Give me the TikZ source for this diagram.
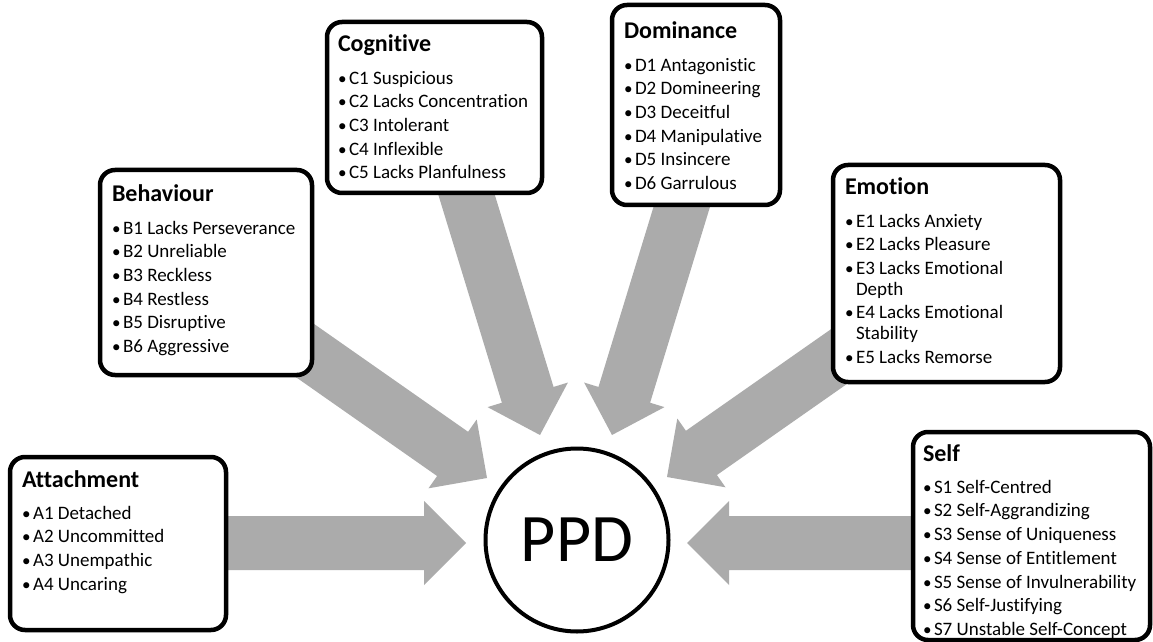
\documentclass[tikz,border=0pt]{standalone}
\usepackage{fontspec}
\usepackage{graphicx}
\setmainfont[Ligatures={NoCommon}]{Carlito}
\definecolor{arrowgray}{RGB}{171,171,171}
\tikzset{
  box/.style={draw, line width=4.5pt, rounded corners=15pt, fill=white, inner sep=0pt, outer sep=0pt},
  txt/.style={anchor=base west, inner sep=0pt, outer sep=0pt},
  blockarrow/.pic={\fill[arrowgray] (0pt,0pt) -- (-42pt,42pt) -- (-42pt,27pt) -- (-290pt,27pt) -- (-290pt,-27pt) -- (-42pt,-27pt) -- (-42pt,-42pt) -- cycle;}
}
\newcommand{\hd}[1]{{\fontsize{24}{24}\selectfont\bfseries #1\par}\vspace{8.5pt}}
\newcommand{\itm}[1]{\par\hangindent=11pt\hangafter=1\noindent\makebox[11pt][l]{\scalebox{0.9}{\textbullet}}#1}
\newcommand{\blist}[2]{\parbox[t]{240pt}{\raggedright\hd{#1}\setlength{\parskip}{3.2pt}\fontsize{19}{20.5}\selectfont #2\par}}
\begin{document}
\begin{tikzpicture}[x=1pt,y=1pt]
\fill[white] (0,0) rectangle (1153,641);
\useasboundingbox (0,0) rectangle (1153,641);
% centre
\node[circle, draw, line width=4pt, minimum size=183pt, inner sep=0pt, fill=white, font=\fontsize{68}{68}\selectfont] (ppd) at (577,101) {PPD};
% arrow tips
\path (ppd.center) ++(-111,-3) coordinate (tipA);
\path (ppd.center) ++(-90,62) coordinate (tipB);
\path (ppd.center) ++(-37,105) coordinate (tipC);
\path (ppd.center) ++(35,105) coordinate (tipD);
\path (ppd.center) ++(90,63) coordinate (tipE);
\path (ppd.center) ++(110,-3) coordinate (tipS);
\pic[rotate=0] at (tipA) {blockarrow};
\pic[rotate=325] at (tipB) {blockarrow};
\pic[rotate=287] at (tipC) {blockarrow};
\pic[rotate=253] at (tipD) {blockarrow};
\pic[rotate=215] at (tipE) {blockarrow};
\pic[rotate=180] at (tipS) {blockarrow};
% boxes
\node[box, minimum width=216pt, minimum height=173pt] (boxA) at (118,97.5) {};
\node[box, minimum width=212pt, minimum height=205pt] (boxB) at (206,368.5) {};
\node[box, minimum width=215pt, minimum height=171pt] (boxC) at (434.5,533.5) {};
\node[box, minimum width=168pt, minimum height=200pt] (boxD) at (696,536) {};
\node[box, minimum width=227pt, minimum height=217pt] (boxE) at (946.5,367.5) {};
\node[box, minimum width=237pt, minimum height=208pt] (boxS) at (1031.5,105) {};
% texts
\node[txt] (txtA) at ([xshift=12pt,yshift=-30pt]boxA.north west) {\blist{Attachment}{\itm{A1 Detached}\itm{A2 Uncommitted}\itm{A3 Unempathic}\itm{A4 Uncaring}}};
\node[txt] (txtB) at ([xshift=12pt,yshift=-32pt]boxB.north west) {\blist{Behaviour}{\itm{B1 Lacks Perseverance}\itm{B2 Unreliable}\itm{B3 Reckless}\itm{B4 Restless}\itm{B5 Disruptive}\itm{B6 Aggressive}}};
\node[txt] (txtC) at ([xshift=11pt,yshift=-30pt]boxC.north west) {\blist{Cognitive}{\itm{C1 Suspicious}\itm{C2 Lacks Concentration}\itm{C3 Intolerant}\itm{C4 Inflexible}\itm{C5 Lacks Planfulness}}};
\node[txt] (txtD) at ([xshift=12pt,yshift=-34pt]boxD.north west) {\blist{Dominance}{\itm{D1 Antagonistic}\itm{D2 Domineering}\itm{D3 Deceitful}\itm{D4 Manipulative}\itm{D5 Insincere}\itm{D6 Garrulous}}};
\node[txt] (txtE) at ([xshift=12pt,yshift=-30pt]boxE.north west) {\blist{Emotion}{\itm{E1 Lacks Anxiety}\itm{E2 Lacks Pleasure}\itm{E3 Lacks Emotional\newline Depth}\itm{E4 Lacks Emotional\newline Stability}\itm{E5 Lacks Remorse}}};
\node[txt] (txtS) at ([xshift=10pt,yshift=-29pt]boxS.north west) {\blist{Self}{\itm{S1 Self-Centred}\itm{S2 Self-Aggrandizing}\itm{S3 Sense of Uniqueness}\itm{S4 Sense of Entitlement}\itm{S5 Sense of Invulnerability}\itm{S6 Self-Justifying}\itm{S7 Unstable Self-Concept}}};
\end{tikzpicture}
\end{document}
